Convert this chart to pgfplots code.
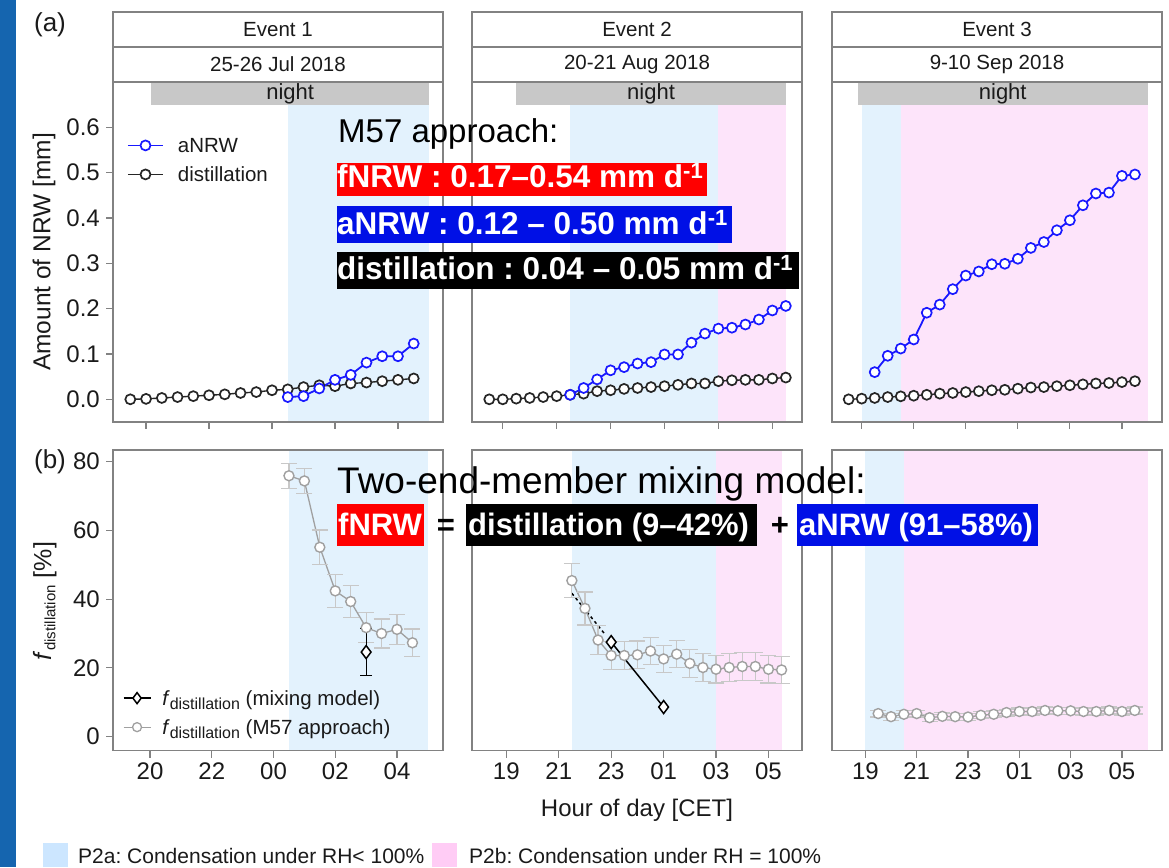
\documentclass[border=0pt]{standalone}
\usepackage{fontspec}
\setmainfont{Liberation Sans}
\usepackage{pgfplots}
\usepackage{pgfplotstable}
\pgfplotsset{compat=1.18}
\frenchspacing
\definecolor{stripblue}{RGB}{21,101,175}
\definecolor{bandblue}{RGB}{227,242,253}
\definecolor{bandpink}{RGB}{253,228,250}
\definecolor{swblue}{RGB}{204,230,255}
\definecolor{swpink}{RGB}{255,204,245}
\definecolor{nightgray}{RGB}{200,200,200}
\definecolor{framegray}{RGB}{130,130,130}
\definecolor{txt}{RGB}{26,26,26}
\definecolor{ptgray}{RGB}{160,160,160}
\definecolor{ebgray}{RGB}{200,200,200}
\definecolor{boxblue}{RGB}{0,16,230}
\definecolor{datblue}{RGB}{25,25,255}
\newcommand{\fs}[1]{\fontsize{#1}{#1}\selectfont}
\newcommand{\fd}{\textit{f}{\fs{15}\raisebox{-4pt}{distillation}}}
\newcommand{\fdl}{\textit{f}{\fs{16}\raisebox{-4pt}{distillation}}}

% ---------- data ----------
\pgfplotstableread{
x y
19.5 0.000
20.0 0.001
20.5 0.003
21.0 0.005
21.5 0.007
22.0 0.009
22.5 0.011
23.0 0.014
23.5 0.016
24.0 0.020
24.5 0.022
25.0 0.027
25.5 0.031
26.0 0.029
26.5 0.035
27.0 0.037
27.5 0.040
28.0 0.043
28.5 0.046
}\distA
\pgfplotstableread{
x y
24.5 0.005
25.0 0.007
25.5 0.024
26.0 0.043
26.5 0.054
27.0 0.081
27.5 0.095
28.0 0.095
28.5 0.123
}\anrwA
\pgfplotstableread{
x y
18.5 0.000
19.0 0.000
19.5 0.0015
20.0 0.003
20.5 0.005
21.0 0.007
21.5 0.010
22.0 0.0125
22.5 0.018
23.0 0.020
23.5 0.023
24.0 0.025
24.5 0.027
25.0 0.029
25.5 0.032
26.0 0.035
26.5 0.035
27.0 0.040
27.5 0.042
28.0 0.043
28.5 0.043
29.0 0.046
29.5 0.048
}\distB
\pgfplotstableread{
x y
21.5 0.010
22.0 0.025
22.5 0.044
23.0 0.064
23.5 0.071
24.0 0.079
24.5 0.082
25.0 0.099
25.5 0.099
26.0 0.125
26.5 0.145
27.0 0.156
27.5 0.158
28.0 0.165
28.5 0.176
29.0 0.196
29.5 0.206
}\anrwB
\pgfplotstableread{
x y
18.5 0.000
19.0 0.0015
19.5 0.003
20.0 0.005
20.5 0.0066
21.0 0.008
21.5 0.010
22.0 0.0125
22.5 0.014
23.0 0.016
23.5 0.018
24.0 0.020
24.5 0.021
25.0 0.0235
25.5 0.026
26.0 0.027
26.5 0.029
27.0 0.031
27.5 0.033
28.0 0.035
28.5 0.036
29.0 0.038
29.5 0.040
}\distC
\pgfplotstableread{
x y
19.5 0.060
20.0 0.096
20.5 0.112
21.0 0.132
21.5 0.191
22.0 0.209
22.5 0.243
23.0 0.273
23.5 0.282
24.0 0.298
24.5 0.299
25.0 0.310
25.5 0.334
26.0 0.347
26.5 0.373
27.0 0.395
27.5 0.428
28.0 0.454
28.5 0.456
29.0 0.493
29.5 0.496
}\anrwC
\pgfplotstableread{
x y e
24.5 75.9 3.6
25.0 74.4 3.6
25.5 55.1 5.0
26.0 42.4 4.8
26.5 39.3 4.7
27.0 31.7 4.3
27.5 30.0 4.2
28.0 31.2 4.3
28.5 27.3 4.0
}\fmA
\pgfplotstableread{
x y e
27.0 24.6 6.8
}\mixA
\pgfplotstableread{
x y e
21.5 45.4 4.9
22.0 37.3 4.8
22.5 28.1 4.2
23.0 23.6 4.0
23.5 23.6 4.0
24.0 23.8 4.0
24.5 24.9 4.0
25.0 22.6 4.0
25.5 24.0 4.0
26.0 21.3 4.0
26.5 20.1 4.0
27.0 19.6 4.0
27.5 20.1 4.0
28.0 20.4 4.0
28.5 20.4 4.0
29.0 19.6 4.0
29.5 19.4 4.0
}\fmB
\pgfplotstableread{
x y
23.0 27.5
25.0 8.6
}\mixB
\pgfplotstableread{
x y e
19.5 6.7 1.0
20.0 5.8 1.0
20.5 6.5 1.0
21.0 6.7 1.0
21.5 5.5 1.0
22.0 5.9 1.0
22.5 5.8 1.0
23.0 5.7 1.0
23.5 6.2 1.0
24.0 6.5 1.0
24.5 7.0 1.0
25.0 7.3 1.0
25.5 7.3 1.0
26.0 7.6 1.0
26.5 7.5 1.0
27.0 7.5 1.0
27.5 7.3 1.0
28.0 7.3 1.0
28.5 7.6 1.0
29.0 7.3 1.0
29.5 7.6 1.0
}\fmC

\pgfplotsset{
 panel/.style={scale only axis, width=330pt,
  axis line style={framegray, line width=1.3pt},
  tick style={framegray, line width=1.2pt},
  major tick length=7pt, tick align=outside, tick pos=left,
  axis on top, clip=true,
  /pgf/number format/assume math mode=true,
  ticklabel style={text=txt, inner sep=2pt},
  yticklabel style={xshift=-4pt}},
 toprow/.style={panel, height=340pt, ymin=-0.05, ymax=0.70, xticklabels={}},
 botrow/.style={panel, height=300.7pt, ymin=-4.1, ymax=83.4,
  xticklabel style={font=\fs{24}, yshift=-3pt}},
 anrw/.style={datblue, line width=1.8pt, mark=*, mark size=5pt,
  mark options={fill=white, draw=datblue, line width=1.7pt}},
 dist/.style={black!85, line width=1.4pt, mark=*, mark size=5pt,
  mark options={fill=white, draw=black!85, line width=1.7pt}},
 m57line/.style={ptgray, line width=1.3pt, mark=*, mark size=5pt,
  mark options={fill=white, draw=ptgray, line width=1.4pt}},
 m57/.style={m57line,
  /pgfplots/error bars/y dir=both, /pgfplots/error bars/y explicit,
  /pgfplots/error bars/error bar style={ebgray, line width=1.2pt},
  /pgfplots/error bars/error mark options={rotate=90, ebgray, mark size=8pt, line width=1.2pt}},
 mixline/.style={black, line width=1.5pt, mark=diamond*, mark size=6.5pt,
  mark options={fill=white, draw=black, line width=1.5pt, solid}},
 mixleg/.style={black, line width=1.5pt, mark=diamond*, mark size=5.5pt,
  mark options={fill=white, draw=black, line width=1.5pt, solid}},
 m57leg/.style={ptgray, line width=1.3pt, mark=*, mark size=4.5pt,
  mark options={fill=white, draw=ptgray, line width=1.3pt}},
}

\begin{document}
\begin{tikzpicture}
\useasboundingbox (0,0) rectangle (1169pt,867pt);
\fill[stripblue] (0,0) rectangle (16pt,867pt);

% ================= TOP ROW =================
\begin{axis}[toprow, at={(113pt,445pt)}, anchor=south west,
  xmin=18.95, xmax=29.43, xtick={20,22,24,26,28},
  ytick={0,0.1,0.2,0.3,0.4,0.5,0.6},
  yticklabel style={font=\fs{24}, /pgf/number format/fixed,
    /pgf/number format/fixed zerofill, /pgf/number format/precision=1},
  legend style={draw=none, fill=none, at={(axis description cs:0.033,0.842)},
    anchor=north west, font=\fs{20.5}, text=txt, row sep=14pt,
    nodes={inner sep=0pt, text height=15pt, text depth=0pt},
    /tikz/every odd column/.append style={column sep=14pt}},
  legend cell align=left,
  legend image code/.code={\draw[mark repeat=2,mark phase=2] plot coordinates {(0pt,0pt) (17.5pt,0pt) (35pt,0pt)};}]
\fill[bandblue] (axis cs:24.5,-0.1) rectangle (axis cs:29,0.649);
\fill[nightgray] (axis cs:20.15,0.649) rectangle (axis cs:29,0.75);
\node[font=\fs{22}, text=txt] at (axis cs:24.575,0.6745) {night};
\addlegendimage{anrw}\addlegendentry{aNRW}
\addlegendimage{dist}\addlegendentry{distillation}
\addplot[dist, forget plot] table[x=x,y=y] {\distA};
\addplot[anrw, forget plot] table[x=x,y=y] {\anrwA};
\end{axis}

\begin{axis}[toprow, at={(472pt,445pt)}, anchor=south west,
  xmin=17.86, xmax=30.10, xtick={19,21,23,25,27,29}, ytick=\empty]
\fill[bandblue] (axis cs:21.5,-0.1) rectangle (axis cs:27,0.649);
\fill[bandpink] (axis cs:27,-0.1) rectangle (axis cs:29.5,0.649);
\fill[nightgray] (axis cs:19.5,0.649) rectangle (axis cs:29.5,0.75);
\node[font=\fs{22}, text=txt] at (axis cs:24.5,0.6745) {night};
\addplot[dist] table[x=x,y=y] {\distB};
\addplot[anrw] table[x=x,y=y] {\anrwB};
\end{axis}

\begin{axis}[toprow, at={(832pt,445pt)}, anchor=south west,
  xmin=17.86, xmax=30.54, xtick={19,21,23,25,27,29}, ytick=\empty]
\fill[bandblue] (axis cs:19,-0.1) rectangle (axis cs:20.5,0.649);
\fill[bandpink] (axis cs:20.5,-0.1) rectangle (axis cs:30,0.649);
\fill[nightgray] (axis cs:18.84,0.649) rectangle (axis cs:30,0.75);
\node[font=\fs{22}, text=txt] at (axis cs:24.42,0.6745) {night};
\addplot[dist] table[x=x,y=y] {\distC};
\addplot[anrw] table[x=x,y=y] {\anrwC};
\end{axis}

% ================= BOTTOM ROW =================
\begin{axis}[botrow, at={(113pt,116.3pt)}, anchor=south west,
  xmin=18.8, xmax=29.49, xtick={20,22,24,26,28},
  xticklabels={20,22,00,02,04},
  ytick={0,20,40,60,80}, yticklabel style={font=\fs{24}},
  legend style={draw=none, fill=none, at={(axis description cs:0.02,0.207)},
    anchor=north west, font=\fs{20.5}, text=txt, row sep=14pt,
    nodes={inner sep=0pt, text height=15pt, text depth=0pt},
    /tikz/every odd column/.append style={column sep=11pt}},
  legend cell align=left,
  legend image code/.code={\draw[mark repeat=2,mark phase=2] plot coordinates {(0pt,0pt) (13.5pt,0pt) (27pt,0pt)};}]
\fill[bandblue] (axis cs:24.5,-10) rectangle (axis cs:29,90);
\addlegendimage{mixleg}\addlegendentry{\fdl\ (mixing model)}
\addlegendimage{m57leg}\addlegendentry{\fdl\ (M57 approach)}
\addplot[m57, forget plot] table[x=x,y=y,y error=e] {\fmA};
\addplot[mixline, forget plot, /pgfplots/error bars/y dir=both, /pgfplots/error bars/y explicit,
  /pgfplots/error bars/error bar style={black, line width=1.2pt},
  /pgfplots/error bars/error mark options={rotate=90, black, mark size=6pt, line width=1.2pt}]
  table[x=x,y=y,y error=e] {\mixA};
\end{axis}

\begin{axis}[botrow, at={(472pt,116.3pt)}, anchor=south west,
  xmin=17.69, xmax=30.28, xtick={19,21,23,25,27,29},
  xticklabels={19,21,23,01,03,05}, ytick=\empty]
\fill[bandblue] (axis cs:21.5,-10) rectangle (axis cs:27,90);
\fill[bandpink] (axis cs:27,-10) rectangle (axis cs:29.5,90);
\addplot[black, line width=1.5pt, dashed] coordinates {(21.5,41.7) (22.75,29.9)};
\addplot[m57] table[x=x,y=y,y error=e] {\fmB};
\addplot[mixline] table[x=x,y=y] {\mixB};
\end{axis}

\begin{axis}[botrow, at={(832pt,116.3pt)}, anchor=south west,
  xmin=17.70, xmax=30.56, xtick={19,21,23,25,27,29},
  xticklabels={19,21,23,01,03,05}, ytick=\empty]
\fill[bandblue] (axis cs:19,-10) rectangle (axis cs:20.5,90);
\fill[bandpink] (axis cs:20.5,-10) rectangle (axis cs:30,90);
\addplot[m57] table[x=x,y=y,y error=e] {\fmC};
\end{axis}

% ================= STRIPS =================
\foreach \xl/\xr/\ev/\dt in {113/443/Event 1/25-26 Jul 2018, 472/802/Event 2/20-21 Aug 2018, 832/1162/Event 3/9-10 Sep 2018}{
  \draw[framegray, line width=1.3pt, fill=white] (\xl pt,785pt) rectangle (\xr pt,820pt);
  \draw[framegray, line width=1.3pt, fill=white] (\xl pt,820pt) rectangle (\xr pt,855pt);
  \node[font=\fs{20.5}, text=txt] at ({(\xl+\xr)/2*1pt},837.5pt) {\ev};
  \node[font=\fs{20.5}, text=txt] at ({(\xl+\xr)/2*1pt},802.5pt) {\dt};
}

% ================= LABELS =================
\node[font=\fs{26}, text=txt] at (50pt,842pt) {(a)};
\node[font=\fs{26}, text=txt] at (50pt,405pt) {(b)};
\node[rotate=90, font=\fs{24.5}, text=txt] at (44pt,615pt) {Amount of NRW [mm]};
\node[rotate=90, font=\fs{25}, text=txt] at (45pt,266pt) {\fd\ [\%]};
\node[font=\fs{24}, text=txt] at (637pt,57pt) {Hour of day [CET]};

% ================= ANNOTATIONS =================
\node[anchor=base west, inner sep=0pt, font=\fs{33}] at (338pt,724pt) {M57 approach:};
\fill[red] (337pt,671pt) rectangle (707pt,704pt);
\node[anchor=base west, inner sep=0pt, font=\bfseries\fs{31.5}, text=white] at (337pt,679pt) {fNRW : 0.17--0.54 mm d\textsuperscript{-1}};
\fill[boxblue] (337pt,624pt) rectangle (732pt,661pt);
\node[anchor=base west, inner sep=0pt, font=\bfseries\fs{31.5}, text=white] at (337pt,632pt) {aNRW : 0.12 -- 0.50 mm d\textsuperscript{-1}};
\fill[black] (337pt,578pt) rectangle (799pt,615pt);
\node[anchor=base west, inner sep=0pt, font=\bfseries\fs{31.5}, text=white] at (337pt,587pt) {distillation : 0.04 -- 0.05 mm d\textsuperscript{-1}};

\node[anchor=base west, inner sep=0pt, font=\fs{37}] at (337pt,373.7pt) {Two-end-member mixing model:};
\fill[red] (337pt,321pt) rectangle (424pt,363pt);
\node[anchor=base west, inner sep=0pt, font=\bfseries\fs{31}, text=white] at (338pt,331pt) {fNRW};
\node[anchor=base, inner sep=0pt, font=\bfseries\fs{31}] at (446pt,331pt) {=};
\fill[black] (466pt,321pt) rectangle (757pt,363pt);
\node[anchor=base west, inner sep=0pt, font=\bfseries\fs{31}, text=white] at (468pt,331pt) {distillation (9--42\%)};
\node[anchor=base, inner sep=0pt, font=\bfseries\fs{31}] at (780pt,331pt) {+};
\fill[boxblue] (797pt,321pt) rectangle (1038pt,363pt);
\node[anchor=base west, inner sep=0pt, font=\bfseries\fs{31}, text=white] at (799pt,331pt) {aNRW (91--58\%)};

% ================= BOTTOM LEGEND =================
\fill[swblue] (43pt,0pt) rectangle (68pt,24pt);
\node[anchor=base west, inner sep=0pt, font=\fs{21}, text=txt] at (78pt,4pt) {P2a: Condensation under RH< 100\%};
\fill[swpink] (432pt,0pt) rectangle (457pt,24pt);
\node[anchor=base west, inner sep=0pt, font=\fs{21}, text=txt] at (469pt,4pt) {P2b: Condensation under RH = 100\%};
\end{tikzpicture}
\end{document}
